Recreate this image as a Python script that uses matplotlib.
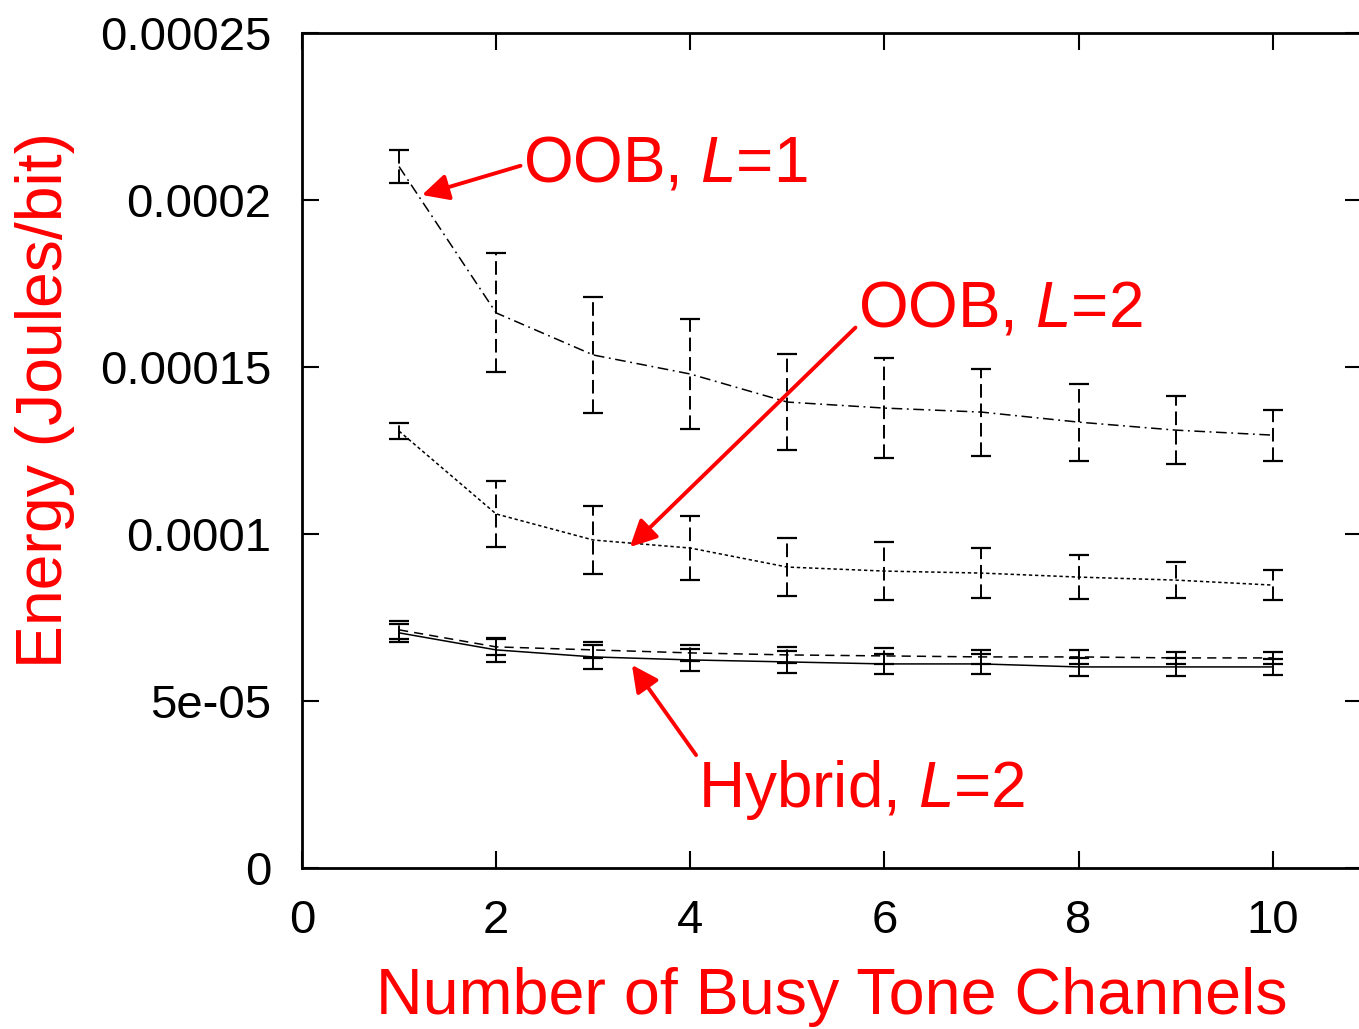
import matplotlib.pyplot as plt
import numpy as np

plt.rcParams['font.family'] = ['Liberation Sans', 'DejaVu Sans']
plt.rcParams['mathtext.fontset'] = 'custom'
plt.rcParams['mathtext.rm'] = 'Liberation Sans'
plt.rcParams['mathtext.it'] = 'Liberation Sans:italic'

# Kanal sayısı
channels = [1, 2, 3, 4, 5, 6, 7, 8, 9, 10]

# OOB, L=1 (kesik-nokta)
oob1 = [2.10e-4, 1.662e-4, 1.536e-4, 1.479e-4, 1.395e-4, 1.377e-4, 1.365e-4, 1.335e-4, 1.311e-4, 1.296e-4]
oob1_err = [0.5e-5, 1.78e-5, 1.75e-5, 1.66e-5, 1.44e-5, 1.50e-5, 1.30e-5, 1.15e-5, 1.02e-5, 0.76e-5]

# OOB, L=2 (noktalı)
oob2 = [1.308e-4, 1.06e-4, 0.982e-4, 0.958e-4, 0.901e-4, 0.889e-4, 0.883e-4, 0.871e-4, 0.862e-4, 0.847e-4]
oob2_err = [0.25e-5, 1.0e-5, 1.02e-5, 0.96e-5, 0.88e-5, 0.86e-5, 0.76e-5, 0.66e-5, 0.55e-5, 0.46e-5]

# Kesikli seri
dashed = [7.13e-5, 6.62e-5, 6.53e-5, 6.44e-5, 6.38e-5, 6.35e-5, 6.32e-5, 6.32e-5, 6.29e-5, 6.29e-5]
dashed_err = [0.27e-5, 0.25e-5, 0.25e-5, 0.25e-5, 0.24e-5, 0.23e-5, 0.22e-5, 0.20e-5, 0.18e-5, 0.17e-5]

# Hybrid, L=2 (düz)
hybrid = [7.04e-5, 6.53e-5, 6.32e-5, 6.23e-5, 6.17e-5, 6.11e-5, 6.11e-5, 6.02e-5, 6.02e-5, 6.02e-5]
hybrid_err = [0.27e-5, 0.35e-5, 0.35e-5, 0.33e-5, 0.32e-5, 0.30e-5, 0.30e-5, 0.28e-5, 0.26e-5, 0.25e-5]

xticks = [0, 2, 4, 6, 8, 10]
yticks = [0, 5e-05, 1e-04, 1.5e-04, 2e-04, 2.5e-04]
ytick_labels = ['0', '5e-05', '0.0001', '0.00015', '0.0002', '0.00025']

fig = plt.figure(figsize=(13.59, 10.29), dpi=100)
ax = fig.add_axes([302 / 1359, 161 / 1029, 1060 / 1359, 835 / 1029])

series = [
    (oob1, oob1_err, (0, (7, 3, 1.2, 3))),
    (oob2, oob2_err, (0, (2.2, 1.8))),
    (dashed, dashed_err, (0, (6, 4))),
    (hybrid, hybrid_err, '-'),
]
for vals, errs, ls in series:
    line, caps, bars = ax.errorbar(channels, vals, yerr=errs, color='black', lw=1.1,
                                   elinewidth=1.4, capsize=7, capthick=1.6)
    line.set_linestyle(ls)
    for b in bars:
        b.set_linestyle((0, (7, 3)))

ax.set_xlim(0, 10.92)
ax.set_ylim(0, 0.00025)
ax.set_xticks(xticks)
ax.set_yticks(yticks)
ax.set_yticklabels(ytick_labels)
ax.tick_params(direction='in', length=12, width=1.5, labelsize=34,
               top=True, right=True, pad=22)
for sp in ax.spines.values():
    sp.set_linewidth(2)

ax.set_xlabel('Number of Busy Tone Channels', color='red', fontsize=46.5, va='center')
ax.set_ylabel('Energy (Joules/bit)', color='red', fontsize=46.3, va='center', ha='center')
ax.xaxis.set_label_coords(0.5, -0.155)
ax.yaxis.set_label_coords(-0.2425, 0.56)

def arrow(rel):
    return dict(arrowstyle='-|>', color='red', lw=2.8, mutation_scale=40,
                shrinkA=0, shrinkB=0, relpos=rel)

ax.annotate('OOB, $L$=1', xy=(1.236, 2.015e-4), xytext=(2.28, 2.105e-4),
            color='red', fontsize=46, va='center', ha='left', arrowprops=arrow((0, 0.5)))
ax.annotate('OOB, $L$=2', xy=(3.378, 0.961e-4), xytext=(5.73, 1.671e-4),
            color='red', fontsize=46, va='center', ha='left', arrowprops=arrow((0, 0.25)))
ax.annotate('Hybrid, $L$=2', xy=(3.399, 0.608e-4), xytext=(4.08, 0.234e-4),
            color='red', fontsize=46, va='center', ha='left', arrowprops=arrow((0, 1.0)))

fig.savefig('out.png', dpi=100)
